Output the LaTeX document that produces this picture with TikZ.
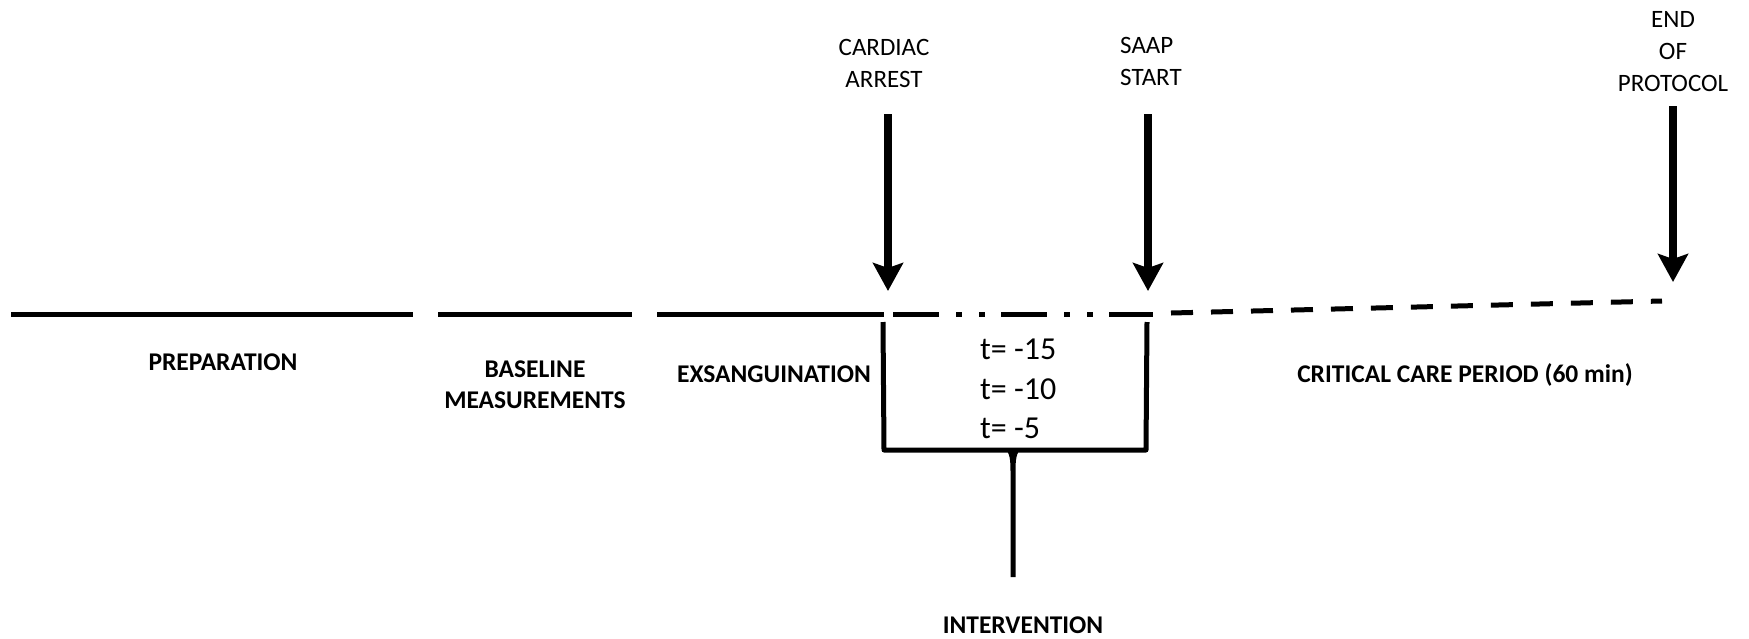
\documentclass[tikz,border=0pt]{standalone}
\usepackage{fontspec}
\setmainfont{Carlito}
\usetikzlibrary{arrows.meta}
\begin{document}
\begin{tikzpicture}[x=1pt,y=-1pt,
  lbl/.style={font=\fontsize{25}{32}\selectfont, inner sep=0pt, align=center},
  blbl/.style={font=\fontsize{25.5}{31}\selectfont\bfseries, inner sep=0pt, align=center},
  tval/.style={font=\fontsize{32}{40}\selectfont, inner sep=0pt, anchor=base west},
  tl/.style={line width=5pt, line cap=butt},
  bigarrow/.style={line width=8pt, -{Stealth[length=28pt,width=30pt,inset=5pt]}},
  brk/.style={line width=5pt, line join=round}]
\useasboundingbox (0,0) rectangle (1749,638);
% timeline coordinates
\coordinate (p1a) at (11,314);  \coordinate (p1b) at (413,314);
\coordinate (p2a) at (438,314); \coordinate (p2b) at (632,314);
\coordinate (p3a) at (657,314); \coordinate (p3b) at (884,314);
\coordinate (dda) at (893,314); \coordinate (ddb) at (1153,314);
\coordinate (dsa) at (1171,313); \coordinate (dsb) at (1662,301);
\draw[tl] (p1a) -- (p1b);
\draw[tl] (p2a) -- (p2b);
\draw[tl] (p3a) -- (p3b);
\draw[tl, dash pattern=on 46pt off 17pt on 6pt off 17pt on 6pt off 16pt] (dda) -- (ddb);
\draw[tl, dash pattern=on 22pt off 18pt] (dsa) -- (dsb);
% labels above
\node[lbl] (ca) at (884,63) {CARDIAC\\ARREST};
\node[lbl, align=left, anchor=west] (ss) at (1120,61) {SAAP\\START};
\node[lbl] (ep) at (1673,52) {END\\OF\\PROTOCOL};
% arrows
\coordinate (caT) at (888,114); \coordinate (caH) at (888,291);
\coordinate (ssT) at (1148,114); \coordinate (ssH) at (1148,291);
\coordinate (epT) at (1673,106); \coordinate (epH) at (1673,282);
\draw[bigarrow] (caT) -- (caH);
\draw[bigarrow] (ssT) -- (ssH);
\draw[bigarrow] (epT) -- (epH);
% phase labels
\node[blbl, anchor=base] (prep) at (223,370) {PREPARATION};
\node[blbl] (base) at (535,385) {BASELINE\\MEASUREMENTS};
\node[blbl, anchor=base] (exs) at (774,382) {EXSANGUINATION};
\node[blbl, anchor=base] (ccp) at (1465,382) {CRITICAL CARE PERIOD (60 min)};
\node[blbl, anchor=base] (int) at (1023,633) {INTERVENTION};
% bracket
\coordinate (bl1) at (883,322); \coordinate (bl2) at (884,450);
\coordinate (br2) at (1146,450); \coordinate (br1) at (1147,322);
\draw[brk] (bl1) -- (bl2) -- (br2) -- (br1);
\fill (1004,448) -- (1022,448) .. controls (1016,452) and (1015.5,460) .. (1015.5,472)
  -- (1015.5,577) -- (1010.5,577) -- (1010.5,472) .. controls (1010.5,460) and (1010,452) .. (1004,448) -- cycle;
% t values
\node[tval] (t15) at (980,359) {t= -15};
\node[tval] (t10) at (980,399) {t= -10};
\node[tval] (t5) at (980,438) {t= -5};
\end{tikzpicture}
\end{document}
